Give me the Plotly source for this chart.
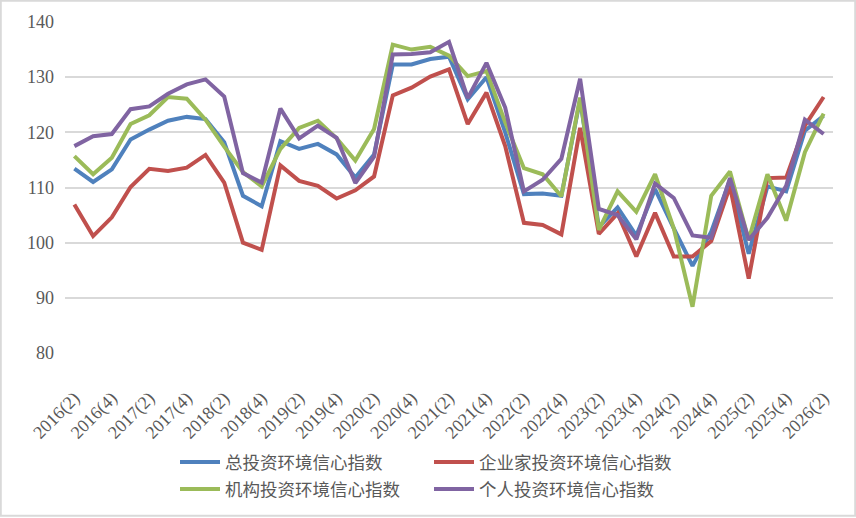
import plotly.graph_objects as go

quarters = [
    "2016(2)", "2016(3)", "2016(4)", "2017(1)", "2017(2)", "2017(3)", "2017(4)", "2018(1)",
    "2018(2)", "2018(3)", "2018(4)", "2019(1)", "2019(2)", "2019(3)", "2019(4)", "2020(1)",
    "2020(2)", "2020(3)", "2020(4)", "2021(1)", "2021(2)", "2021(3)", "2021(4)", "2022(1)",
    "2022(2)", "2022(3)", "2022(4)", "2023(1)", "2023(2)", "2023(3)", "2023(4)", "2024(1)",
    "2024(2)", "2024(3)", "2024(4)", "2025(1)", "2025(2)", "2025(3)", "2025(4)", "2026(1)",
    "2026(2)",
]
tick_labels = [
    "2016(2)", "2016(4)", "2017(2)", "2017(4)", "2018(2)", "2018(4)", "2019(2)", "2019(4)",
    "2020(2)", "2020(4)", "2021(2)", "2021(4)", "2022(2)", "2022(4)", "2023(2)", "2023(4)",
    "2024(2)", "2024(4)", "2025(2)", "2025(4)", "2026(2)",
]

total_idx = [113.4, 111.0, 113.3, 118.7, 120.5, 122.1, 122.8, 122.4, 118.2, 108.5, 106.6,
             118.4, 117.0, 117.9, 116.0, 111.8, 116.0, 132.3, 132.3, 133.3, 133.7, 126.0,
             130.0, 120.0, 108.8, 108.9, 108.5, 126.0, 102.8, 106.4, 101.3, 109.7, 102.6,
             95.8, 102.0, 111.4, 98.0, 110.2, 109.3, 120.3, 123.0]
entrepreneur_idx = [106.9, 101.2, 104.6, 110.1, 113.4, 113.0, 113.6, 115.9, 110.9, 100.0, 98.7,
                    114.0, 111.2, 110.3, 108.0, 109.5, 112.0, 126.7, 128.1, 130.1, 131.4, 121.5,
                    127.2, 117.5, 103.6, 103.2, 101.5, 120.8, 101.6, 105.3, 97.5, 105.4, 97.5,
                    97.5, 100.3, 110.2, 93.5, 111.7, 111.8, 121.2, 126.4]
institution_idx = [115.7, 112.4, 115.4, 121.5, 123.1, 126.4, 126.1, 122.3, 117.4, 112.8, 110.2,
                   117.0, 120.8, 122.1, 118.9, 114.9, 120.6, 135.9, 135.0, 135.5, 133.9, 130.2,
                   131.1, 121.8, 113.5, 112.4, 108.4, 126.3, 102.3, 109.3, 105.6, 112.4, 102.6,
                   88.4, 108.5, 112.9, 100.5, 112.4, 104.0, 116.4, 123.4]
individual_idx = [117.5, 119.3, 119.7, 124.2, 124.7, 127.0, 128.7, 129.6, 126.5, 112.6, 110.9,
                  124.3, 118.9, 121.2, 119.0, 110.8, 115.6, 134.1, 134.2, 134.5, 136.4, 126.2,
                  132.6, 124.5, 109.3, 111.4, 115.2, 129.7, 106.1, 105.0, 100.6, 110.7, 108.1,
                  101.3, 100.9, 111.7, 100.5, 104.5, 110.3, 122.3, 119.7]

series = [
    ("总投资环境信心指数", total_idx, "#4F81BD", "legend"),
    ("企业家投资环境信心指数", entrepreneur_idx, "#C0504D", "legend"),
    ("机构投资环境信心指数", institution_idx, "#9BBB59", "legend2"),
    ("个人投资环境信心指数", individual_idx, "#8064A2", "legend2"),
]

fig = go.Figure()
for name, vals, color, lg in series:
    fig.add_trace(go.Scatter(
        x=quarters, y=vals, name=name, mode="lines",
        line=dict(color=color, width=4),
        legend=lg,
    ))

W, H = 856, 518
ml, mr, mt, mb = 65, 23, 22, 164
pw, ph = W - ml - mr, H - mt - mb

tick_font = dict(family="Liberation Serif, DejaVu Serif, serif", size=18, color="#595959")
leg_font = dict(family="Noto Sans CJK SC, sans-serif", size=17.5, color="#595959")

leg_common = dict(orientation="h", x=(175 - ml) / pw, xanchor="left",
                  entrywidth=199, entrywidthmode="pixels",
                  font=leg_font, bgcolor="rgba(0,0,0,0)", traceorder="normal",
                  itemwidth=40, yanchor="middle")

fig.update_layout(
    width=W, height=H,
    margin=dict(l=ml, r=mr, t=mt, b=mb),
    paper_bgcolor="white", plot_bgcolor="white",
    showlegend=True,
    legend=dict(y=(354 - 462) / ph, **leg_common),
    legend2=dict(y=(354 - 489) / ph, **leg_common),
    xaxis=dict(
        type="category", range=[-0.5, len(quarters) - 0.5],
        tickmode="array", tickvals=tick_labels, ticktext=tick_labels,
        tickangle=-45, tickfont=tick_font, showgrid=False, zeroline=False,
        showline=False, ticks="", ticklabelstandoff=30,
    ),
    yaxis=dict(
        range=[80, 140], dtick=10, tick0=80, tickfont=tick_font,
        showgrid=True, gridcolor="#D9D9D9", gridwidth=1.5,
        zeroline=False, showline=False, ticks="", ticklabelstandoff=10,
    ),
    shapes=[dict(type="rect", xref="paper", yref="paper",
                 x0=-ml / pw + 0.001, x1=1 + mr / pw - 0.001,
                 y0=-mb / ph + 0.002, y1=1 + mt / ph - 0.002,
                 line=dict(color="#D9D9D9", width=2), layer="below")],
)

fig.write_html("out.html")
